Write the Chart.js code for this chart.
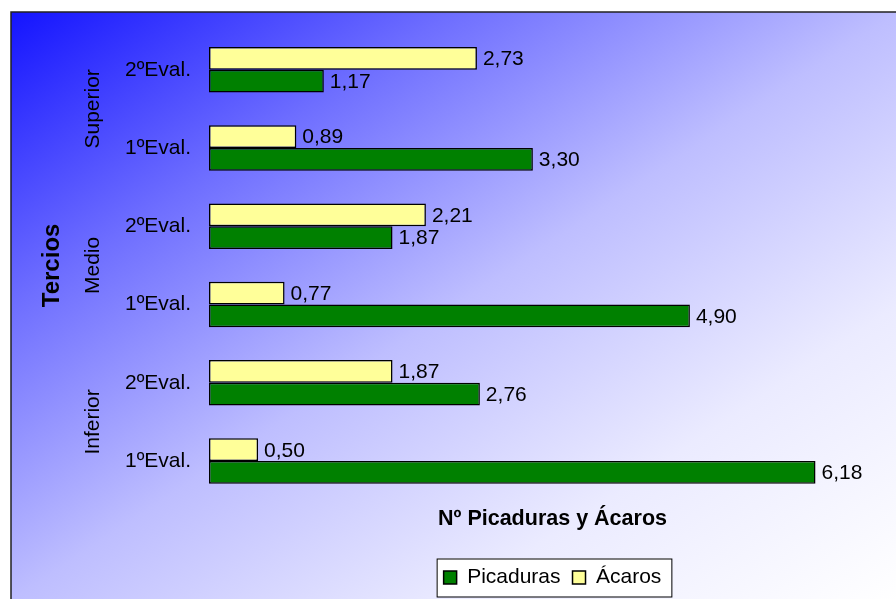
<!DOCTYPE html>
<html>
<head>
<meta charset="utf-8">
<script src="https://cdn.jsdelivr.net/npm/chart.js@4.4.0/dist/chart.umd.min.js"></script>
<style>
html, body { margin: 0; padding: 0; background: #fff; }
#wrap { width: 896px; height: 599px; }
</style>
</head>
<body>
<div id="wrap"><canvas id="chart" width="896" height="599"></canvas></div>
<script>
// data (top to bottom)
var categories = ['2ºEval.', '1ºEval.', '2ºEval.', '1ºEval.', '2ºEval.', '1ºEval.'];
var groups = ['Superior', 'Medio', 'Inferior'];
var acaros = [2.73, 0.89, 2.21, 0.77, 1.87, 0.50];
var picaduras = [1.17, 3.30, 1.87, 4.90, 2.76, 6.18];

var green = '#008000';
var yellow = '#FFFF99';
var fontFamily = "'Liberation Sans', Arial, sans-serif";

Chart.defaults.font.family = fontFamily;
Chart.defaults.color = '#000';

function fmt(v) {
	return v.toFixed(2).replace('.', ',');
}

// legend frame, computed from the legend's own hitboxes
function legendRect(chart) {
	var lg = chart.legend;
	if (!lg || !lg.legendHitBoxes || !lg.legendHitBoxes.length) return null;
	var boxes = lg.legendHitBoxes;
	var l = Infinity, r = -Infinity, t = boxes[0].top, h = boxes[0].height;
	boxes.forEach(function (b) {
		l = Math.min(l, b.left);
		r = Math.max(r, b.left + b.width);
	});
	var cy = t + h / 2;
	return { x: l - 7, y: cy - 19, w: (r + 10) - (l - 7), h: 38 };
}

var background = {
	id: 'background',
	beforeDraw: function (chart) {
		var ctx = chart.ctx;
		var x0 = 11, y0 = 12, w = chart.width - x0 + 2, h = chart.height - y0 + 2;
		ctx.save();
		ctx.fillStyle = '#fff';
		ctx.fillRect(0, 0, chart.width, chart.height);
		// diagonal gradient in the frame's own unit square
		ctx.save();
		ctx.translate(x0, y0);
		ctx.scale(w, h);
		var g = ctx.createLinearGradient(0, 0, 1, 1);
		g.addColorStop(0, 'rgb(20,20,255)');
		g.addColorStop(0.25, 'rgb(110,110,255)');
		g.addColorStop(0.5, 'rgb(190,190,255)');
		g.addColorStop(0.75, 'rgb(235,235,255)');
		g.addColorStop(1, 'rgb(255,255,255)');
		ctx.fillStyle = g;
		ctx.fillRect(0, 0, 1, 1);
		ctx.restore();
		ctx.strokeStyle = '#222';
		ctx.lineWidth = 1.5;
		ctx.strokeRect(x0, y0, w + 10, h + 10);

		var r = legendRect(chart);
		if (r) {
			ctx.fillStyle = '#fff';
			ctx.fillRect(r.x, r.y, r.w, r.h);
			ctx.strokeStyle = '#000';
			ctx.lineWidth = 1;
			ctx.strokeRect(r.x + 0.5, r.y + 0.5, r.w, r.h);
		}
		ctx.restore();
	}
};

var valueLabels = {
	id: 'valueLabels',
	afterDatasetsDraw: function (chart) {
		var ctx = chart.ctx;
		ctx.save();
		ctx.font = '21px ' + fontFamily;
		ctx.fillStyle = '#000';
		ctx.textAlign = 'left';
		ctx.textBaseline = 'middle';
		chart.data.datasets.forEach(function (ds, i) {
			var meta = chart.getDatasetMeta(i);
			meta.data.forEach(function (el, j) {
				var p = el.getProps(['x', 'y'], true);
				ctx.fillText(fmt(ds.data[j]), p.x + 6, p.y + 1);
			});
		});
		ctx.restore();
	}
};

var groupLabels = {
	id: 'groupLabels',
	afterDraw: function (chart) {
		var ctx = chart.ctx;
		var ys = chart.scales.y;
		ctx.save();
		ctx.font = '21px ' + fontFamily;
		ctx.fillStyle = '#000';
		ctx.textAlign = 'center';
		ctx.textBaseline = 'middle';
		groups.forEach(function (name, g) {
			var y = (ys.getPixelForValue(2 * g) + ys.getPixelForValue(2 * g + 1)) / 2;
			ctx.save();
			ctx.translate(93, y);
			ctx.rotate(-Math.PI / 2);
			ctx.fillText(name, 0, 0);
			ctx.restore();
		});
		ctx.restore();
	}
};

var ctx = document.getElementById('chart').getContext('2d');
var chart = new Chart(ctx, {
	type: 'bar',
	data: {
		labels: categories,
		datasets: [{
			label: 'Ácaros',
			data: acaros,
			backgroundColor: yellow,
			borderColor: '#000',
			borderWidth: 1.5,
			borderSkipped: false
		}, {
			label: 'Picaduras',
			data: picaduras,
			backgroundColor: green,
			borderColor: '#000',
			borderWidth: 1.5,
			borderSkipped: false
		}]
	},
	options: {
		indexAxis: 'y',
		responsive: false,
		animation: false,
		categoryPercentage: 0.58,
		barPercentage: 1,
		layout: { padding: { top: 27, right: 0, bottom: 1, left: 0 } },
		scales: {
			x: {
				min: 0,
				max: 7,
				grid: { display: false, drawTicks: false },
				border: { display: false },
				ticks: { display: false },
				title: {
					display: true,
					text: 'Nº Picaduras y Ácaros',
					color: '#000',
					font: { size: 21.5, weight: 'bold' },
					padding: { top: 6, bottom: 23 }
				}
			},
			y: {
				grid: { display: false, drawTicks: false },
				border: { display: false },
				ticks: { color: '#000', font: { size: 21 }, padding: 18, autoSkip: false },
				title: {
					display: true,
					text: 'Tercios',
					color: '#000',
					font: { size: 24, weight: 'bold' },
					padding: { top: 38, bottom: 0 }
				},
				afterFit: function (scale) { scale.width = 209; }
			}
		},
		plugins: {
			legend: {
				position: 'bottom',
				reverse: true,
				fullSize: false,
				labels: {
					boxWidth: 13,
					boxHeight: 13,
					padding: 12,
					color: '#000',
					font: { size: 21 }
				}
			},
			tooltip: { enabled: false }
		}
	},
	plugins: [background, valueLabels, groupLabels]
});
</script>
</body>
</html>
